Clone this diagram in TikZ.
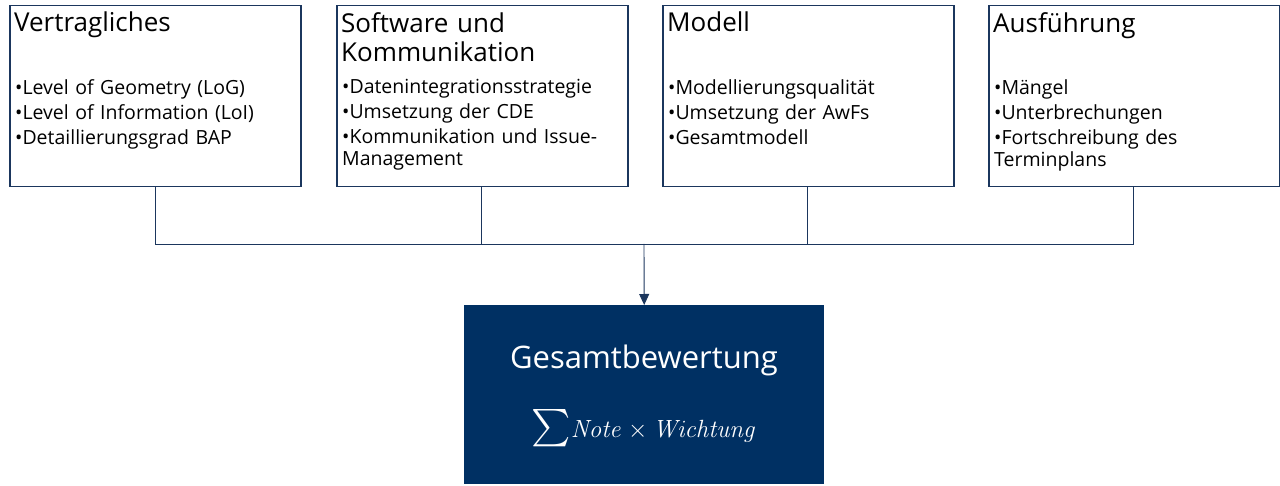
\documentclass[tikz,border=0pt]{standalone}
\usepackage[no-math]{fontspec}
\setmainfont{Open Sans}
\usepackage{amsmath}
\usetikzlibrary{arrows.meta}
\definecolor{navy}{HTML}{003063}
\definecolor{edge}{HTML}{1B365D}
\begin{document}
\begin{tikzpicture}[x=1pt,y=-1pt,
  box/.style={draw=edge,line width=1.5pt,minimum width=291pt,minimum height=181pt,anchor=north west,inner sep=0pt},
  ttl/.style={anchor=north west,font=\fontsize{26}{29}\selectfont,align=left,inner sep=0pt,text width=280pt},
  lst/.style={anchor=north west,font=\fontsize{19.5}{22}\selectfont,align=left,inner sep=0pt,text width=282pt},
  conn/.style={draw=edge,line width=0.9pt}]
\useasboundingbox (0,0) rectangle (1280,486);
\node[box] (b1) at (9,5) {};
\node[box] (b2) at (336,5) {};
\node[box] (b3) at (662,5) {};
\node[box] (b4) at (988,5) {};
\node[ttl] (t1) at (14,12) {Vertragliches};
\node[ttl] (t2) at (341,12) {Software und\\Kommunikation};
\node[ttl] (t3) at (667,12) {Modell};
\node[ttl] (t4) at (993,12) {Ausführung};
\newcommand{\bl}[1]{\hangindent=6pt\hangafter=1 •#1\par\vspace{3pt}}
\node[lst] (l1) at (15,79) {\bl{Level of Geometry (LoG)}\bl{Level of Information (LoI)}\bl{Detaillierungsgrad BAP}};
\node[lst] (l2) at (342,79) {\bl{Datenintegrationsstrategie}\bl{Umsetzung der CDE}\bl{Kommunikation und Issue-\\Management}};
\node[lst] (l3) at (668,79) {\bl{Modellierungsqualität}\bl{Umsetzung der AwFs}\bl{Gesamtmodell}};
\node[lst] (l4) at (994,79) {\bl{Mängel}\bl{Unterbrechungen}\bl{Fortschreibung des\\Terminplans}};
\node[fill=navy,minimum width=360pt,minimum height=179pt,anchor=north west,inner sep=0pt] (g) at (464,305) {};
\node[text=white,font=\fontsize{31}{34}\selectfont] (gt) at (644,360) {Gesamtbewertung};
\node[text=white,font=\fontsize{27}{30}\selectfont] (gm) at (644,428) {$\displaystyle\scalebox{1.5}{$\sum$}\mathit{Note}\times \mathit{Wichtung}$};
\coordinate (j1) at (155,244);
\coordinate (j2) at (481,244);
\coordinate (j3) at (807,244);
\coordinate (j4) at (1133,244);
\coordinate (jm) at (644,244);
\path[conn] (b1.south -| j1) -- (j1) -- (j4) -- (b4.south -| j4);
\path[conn] (b2.south -| j2) -- (j2);
\path[conn] (b3.south -| j3) -- (j3);
\path[conn,-{Triangle[length=11pt,width=10pt]}] (jm) -- (g.north);
\end{tikzpicture}
\end{document}
